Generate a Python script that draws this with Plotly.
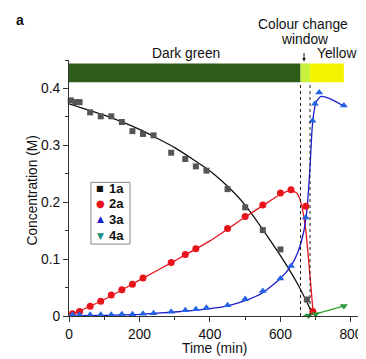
import plotly.graph_objects as go

# ---- measured data ----
t_1a = [5, 18, 30, 60, 90, 120, 150, 180, 210, 240, 290, 330, 360, 390, 450, 500, 550, 600, 675]
c_1a = [0.379, 0.376, 0.376, 0.358, 0.351, 0.351, 0.341, 0.325, 0.320, 0.3175, 0.287, 0.276,
        0.263, 0.2555, 0.223, 0.191, 0.151, 0.117, 0.029]

t_2a = [10, 30, 60, 90, 120, 150, 180, 210, 290, 330, 360, 450, 500, 550, 600, 630, 672, 692]
c_2a = [0.004, 0.008, 0.017, 0.026, 0.037, 0.046, 0.056, 0.067, 0.094, 0.108, 0.118, 0.154,
        0.175, 0.195, 0.216, 0.222, 0.193, 0.008]

t_3a = [10, 30, 60, 90, 120, 150, 180, 210, 240, 290, 330, 360, 390, 450, 500, 550, 600, 630,
        672, 691, 698, 710, 780]
c_3a = [0.002, 0.002, 0.002, 0.002, 0.002, 0.003, 0.003, 0.004, 0.005, 0.0076, 0.010, 0.012,
        0.0146, 0.019, 0.030, 0.044, 0.066, 0.088, 0.173, 0.343, 0.373, 0.393, 0.370]

t_4a = [680, 700, 780]
c_4a = [0.001, 0.003, 0.0175]

# fitted curves
fit_t_1a = [0, 100, 200, 300, 400, 450, 500, 550, 600, 650, 692]
fit_c_1a = [0.373, 0.353, 0.328, 0.296, 0.255, 0.228, 0.195, 0.152, 0.106, 0.055, 0.003]

fit_t_2a = [0, 100, 200, 300, 400, 500, 550, 600, 630, 648, 660, 672, 684, 693]
fit_c_2a = [0.0, 0.029, 0.063, 0.097, 0.132, 0.174, 0.194, 0.214, 0.221, 0.215, 0.195, 0.15, 0.07, 0.004]

fit_t_3a = [0, 100, 200, 300, 400, 450, 500, 550, 600, 630, 650, 665, 675, 684, 690, 696, 703,
            715, 740, 780]
fit_c_3a = [0.0, 0.001, 0.003, 0.007, 0.013, 0.018, 0.027, 0.041, 0.066, 0.088, 0.113, 0.145,
            0.185, 0.262, 0.33, 0.362, 0.378, 0.386, 0.382, 0.369]

fit_t_4a = [665, 700, 780]
fit_c_4a = [0.0, 0.004, 0.0175]

# colour bar windows
bar_edges = [0, 657, 684, 780]
bar_colors = ["#2c5c18", "#c6f23e", "#f6f300"]
window_lines = [657, 684]

x_ticks = [0, 200, 400, 600, 800]
y_ticks = [0, 0.1, 0.2, 0.3, 0.4]

series = [
    ("1a", t_1a, c_1a, fit_t_1a, fit_c_1a, "square", "#555555", "#111111", 6, "#111111"),
    ("2a", t_2a, c_2a, fit_t_2a, fit_c_2a, "circle", "#e8141b", "#e8141b", 7, "#e8141b"),
    ("3a", t_3a, c_3a, fit_t_3a, fit_c_3a, "triangle-up", "#2463e6", "#1c1ccf", 7, "#1c1ccf"),
    ("4a", t_4a, c_4a, fit_t_4a, fit_c_4a, "triangle-down", "#2a9a3c", "#2f9f2f", 7, "#1b8a80"),
]

fig = go.Figure()
for name, tx, cy, ft, fc, sym, mcol, lcol, msize, legcol in series:
    fig.add_trace(go.Scatter(x=ft, y=fc, mode="lines", line=dict(color=lcol, width=1.3, shape="spline", smoothing=0.5),
                             showlegend=False, hoverinfo="skip", cliponaxis=False))
for name, tx, cy, ft, fc, sym, mcol, lcol, msize, legcol in series:
    fig.add_trace(go.Scatter(x=tx, y=cy, mode="markers", name=name,
                             marker=dict(symbol=sym, color=mcol, size=msize, line=dict(width=0)),
                             showlegend=False, cliponaxis=False))

shapes = []
for i, col in enumerate(bar_colors):
    shapes.append(dict(type="rect", xref="x", yref="y", x0=bar_edges[i], x1=bar_edges[i + 1],
                       y0=0.411, y1=0.444, fillcolor=col, line=dict(width=0), layer="below"))
for xv in window_lines:
    shapes.append(dict(type="line", xref="x", yref="y", x0=xv, x1=xv, y0=0, y1=0.411,
                       line=dict(color="#222222", width=1, dash="dot")))

# legend box
shapes.append(dict(type="rect", xref="paper", yref="paper", x0=0.074, x1=0.206, y0=0.281, y1=0.522,
                   fillcolor="white", line=dict(color="#888888", width=1)))

annotations = []
glyphs = {"square": "■", "circle": "●", "triangle-up": "▲", "triangle-down": "▼"}
glyph_size = {"square": 8, "circle": 10, "triangle-up": 9, "triangle-down": 9}
row_y = [0.500, 0.439, 0.377, 0.313]
for (name, tx, cy, ft, fc, sym, mcol, lcol, msize, legcol), yy in zip(series, row_y):
    annotations.append(dict(xref="paper", yref="paper", x=0.105, y=yy, text=glyphs[sym], showarrow=False,
                            font=dict(family="DejaVu Sans", size=glyph_size[sym], color=legcol),
                            xanchor="center", yanchor="middle"))
    annotations.append(dict(xref="paper", yref="paper", x=0.128, y=yy, text="<b>%s</b>" % name, showarrow=False,
                            font=dict(family="Liberation Sans", size=13, color="#111111"),
                            xanchor="left", yanchor="middle"))

FS = 13.8
txt_font = dict(family="Liberation Sans", size=FS, color="#111111")
annotations += [
    dict(xref="paper", yref="paper", x=0.395, y=1.025, text="Dark green", showarrow=False, font=txt_font,
         xanchor="center", yanchor="middle"),
    dict(xref="paper", yref="paper", x=0.791, y=1.140, text="Colour change", showarrow=False, font=txt_font,
         xanchor="center", yanchor="middle"),
    dict(xref="paper", yref="paper", x=0.794, y=1.080, text="window", showarrow=False, font=txt_font,
         xanchor="center", yanchor="middle"),
    dict(xref="paper", yref="paper", x=0.905, y=1.025, text="Yellow", showarrow=False, font=txt_font,
         xanchor="center", yanchor="middle"),
    dict(xref="paper", yref="paper", x=0.794, y=0.994, ax=0, ay=-10, text="",
         showarrow=True, arrowhead=2, arrowsize=0.7, arrowwidth=1, arrowcolor="#111111"),
    dict(xref="paper", yref="paper", x=0.49, y=-0.125, text="Time (min)", showarrow=False,
         font=txt_font, xanchor="center", yanchor="middle"),
    dict(xref="paper", yref="paper", x=-0.1216, y=0.49, text="Concentration (M)", showarrow=False,
         textangle=-90, font=txt_font, xanchor="center", yanchor="middle"),
    dict(xref="paper", yref="paper", x=-0.166, y=1.158, text="<b>a</b>", showarrow=False,
         font=dict(family="Liberation Sans", size=14, color="#111111"), xanchor="center", yanchor="middle"),
]

# page shows the figure offset by 8 px (body margin), so the figure is 8 px smaller
fig.update_layout(
    width=358, height=351,
    margin=dict(l=61, r=1, t=51.5, b=43),
    paper_bgcolor="white", plot_bgcolor="white",
    shapes=shapes, annotations=annotations, showlegend=False,
    font=dict(family="Liberation Sans", size=12, color="#111111"),
)
fig.update_xaxes(range=[0, 840], tickvals=x_ticks, ticks="outside", ticklen=5, tickwidth=1,
                 tickcolor="#333333", showline=True, linecolor="#333333", linewidth=1,
                 showgrid=False, zeroline=False, tickfont=dict(size=FS),
                 minor=dict(dtick=100, tick0=0, ticks="outside", ticklen=3, tickcolor="#333333", showgrid=False))
fig.update_yaxes(range=[0, 0.45], tickvals=y_ticks, ticktext=["0", "0.1", "0.2", "0.3", "0.4"],
                 ticks="outside", ticklen=5, tickwidth=1,
                 tickcolor="#333333", showline=True, linecolor="#333333", linewidth=1,
                 showgrid=False, zeroline=False, tickfont=dict(size=FS),
                 minor=dict(dtick=0.05, tick0=0, ticks="outside", ticklen=3, tickcolor="#333333", showgrid=False))

fig.write_html("out.html")
